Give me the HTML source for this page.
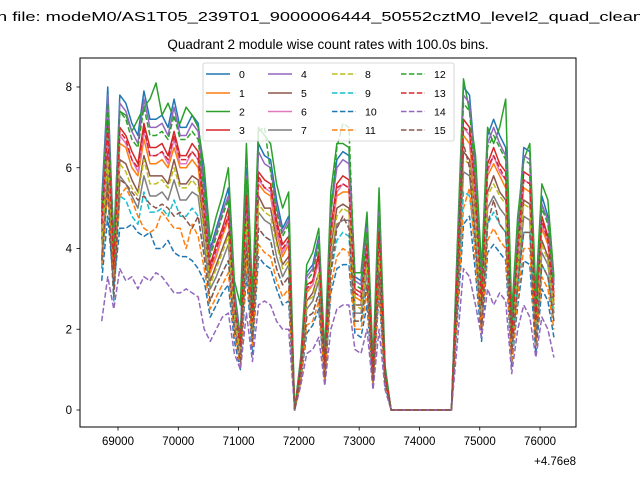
<!DOCTYPE html>
<html><head><meta charset="utf-8"><style>
html,body{margin:0;padding:0;background:#fff;}
svg{display:block;font-family:"Liberation Sans","DejaVu Sans",sans-serif;}
</style></head><body>
<svg id="chart" width="640" height="480" viewBox="0 0 640 480" xmlns="http://www.w3.org/2000/svg">
<rect x="0" y="0" width="640" height="480" fill="#fff"/>
<text x="-3" y="21" font-size="13" textLength="646" lengthAdjust="spacingAndGlyphs">n file: modeM0/AS1T05_239T01_9000006444_50552cztM0_level2_quad_clean</text>
<text x="328" y="49" font-size="13.5" text-anchor="middle">Quadrant 2 module wise count rates with 100.0s bins.</text>
<g id="plot"></g>
<rect x="80" y="58" width="496" height="369" fill="none" stroke="#000" stroke-width="1"/>
<g id="ticks"></g>
<text x="576" y="465" font-size="11.5" text-anchor="end">+4.76e8</text>
<g id="legend"></g>
</svg>
<script>
const seriesNames = ['0','1','2','3','4','5','6','7','8','9','10','11','12','13','14','15'];
const tStart = 68730;
const tStep = 100;
const xTicks = [69000,70000,71000,72000,73000,74000,75000,76000];
const xTickLabels = ['69000','70000','71000','72000','73000','74000','75000','76000'];
const yTicks = [0,2,4,6,8];
const yTickLabels = ['0','2','4','6','8'];
const s0 = [5.2,8.0,4.0,7.8,7.6,7.1,6.8,7.9,7.2,7.2, 7.3,7.0,7.7,7.0,7.0,7.3,7.1,5.6,4.0,4.5, 5.0,5.5,3.0,1.8,6.0,2.5,6.6,6.3,6.2,5.2, 4.5,4.8,0,1.2,3.4,3.6,4.3,1.2,5.0,6.2, 6.4,6.3,3.3,3.2,4.6,1.0,5.0,1.0,0,0, 0,0,0,0,0,0,0,0,0,4.0, 8.0,7.8,6.0,3.0,6.8,7.2,6.8,6.5,2.0,4.5, 6.5,6.4,2.5,5.3,4.8,3.2];
const s1 = [4.4,6.8,3.4,6.6,6.5,6.0,5.8,6.7,6.1,6.1, 6.2,6.0,6.5,6.0,6.0,6.2,6.0,4.8,3.4,3.8, 4.3,4.7,2.6,1.5,5.1,2.1,5.6,5.4,5.3,4.4, 3.8,4.1,0,1.0,2.9,3.1,3.7,1.0,4.3,5.3, 5.4,5.4,2.8,2.7,3.9,0.9,4.3,0.9,0,0, 0,0,0,0,0,0,0,0,0,3.4, 6.8,6.6,5.1,2.6,5.8,6.1,5.8,5.5,1.7,3.8, 5.5,5.4,2.1,4.5,4.1,2.7];
const s2 = [5.0,7.2,4.3,7.4,7.3,6.9,7.2,7.5,7.7,8.1, 7.3,7.6,7.2,7.1,7.5,7.3,7.0,6.0,4.2,4.8, 5.3,6.0,3.2,2.6,6.6,2.8,7.0,6.8,6.6,5.6, 5.0,5.4,0,1.3,3.6,3.9,4.5,1.4,5.4,6.6, 6.6,6.5,3.4,3.4,4.9,1.2,5.5,1.1,0,0, 0,0,0,0,0,0,0,0,0,4.2, 8.2,7.4,6.3,3.5,7.0,6.6,7.0,7.7,2.4,4.8, 6.2,6.6,2.9,5.6,5.2,3.3];
const s3 = [4.7,7.2,3.6,7.0,6.8,6.4,6.1,7.1,6.5,6.5, 6.6,6.3,6.9,6.3,6.3,6.6,6.4,5.0,3.6,4.1, 4.5,5.0,2.7,1.6,5.4,2.3,5.9,5.7,5.6,4.7, 4.1,4.3,0,1.1,3.1,3.2,3.9,1.1,4.5,5.6, 5.8,5.7,3.0,2.9,4.1,0.9,4.5,0.9,0,0, 0,0,0,0,0,0,0,0,0,3.6, 7.2,7.0,5.4,2.7,6.1,6.5,6.1,5.9,1.8,4.1, 5.9,5.8,2.3,4.8,4.3,2.9];
const s4 = [5.0,7.8,3.9,7.6,7.4,6.9,6.6,7.7,7.0,7.0, 7.1,6.8,7.5,6.8,6.8,7.1,6.9,5.4,3.9,4.4, 4.9,5.3,2.9,1.7,5.8,2.4,6.4,6.1,6.0,5.0, 4.4,4.7,0,1.2,3.3,3.5,4.2,1.2,4.9,6.0, 6.2,6.1,3.2,3.1,4.5,1.0,4.9,1.0,0,0, 0,0,0,0,0,0,0,0,0,3.9, 7.8,7.6,5.8,2.9,6.6,7.0,6.6,6.3,1.9,4.4, 6.3,6.2,2.4,5.1,4.7,3.1];
const s5 = [4.2,6.4,3.2,6.2,6.1,5.7,5.4,6.3,5.8,5.8, 5.8,5.6,6.2,5.6,5.6,5.8,5.7,4.5,3.2,3.6, 4.0,4.4,2.4,1.4,4.8,2.0,5.3,5.0,5.0,4.2, 3.6,3.8,0,1.0,2.7,2.9,3.4,1.0,4.0,5.0, 5.1,5.0,2.6,2.6,3.7,0.8,4.0,0.8,0,0, 0,0,0,0,0,0,0,0,0,3.2, 6.4,6.2,4.8,2.4,5.4,5.8,5.4,5.2,1.6,3.6, 5.2,5.1,2.0,4.2,3.8,2.6];
const s6 = [4.5,7.0,3.5,6.8,6.6,6.2,5.9,6.9,6.3,6.3, 6.4,6.1,6.7,6.1,6.1,6.4,6.2,4.9,3.5,3.9, 4.4,4.8,2.6,1.6,5.2,2.2,5.7,5.5,5.4,4.5, 3.9,4.2,0,1.0,3.0,3.1,3.7,1.0,4.4,5.4, 5.6,5.5,2.9,2.8,4.0,0.9,4.4,0.9,0,0, 0,0,0,0,0,0,0,0,0,3.5, 7.0,6.8,5.2,2.6,5.9,6.3,5.9,5.7,1.7,3.9, 5.7,5.6,2.2,4.6,4.2,2.8];
const s7 = [3.8,5.9,3.0,5.8,5.6,5.3,5.0,5.8,5.3,5.3, 5.4,5.2,5.7,5.2,5.2,5.4,5.3,4.1,3.0,3.3, 3.7,4.1,2.2,1.3,4.4,1.9,4.9,4.7,4.6,3.8, 3.3,3.6,0,0.9,2.5,2.7,3.2,0.9,3.7,4.6, 4.7,4.7,2.4,2.4,3.4,0.7,3.7,0.7,0,0, 0,0,0,0,0,0,0,0,0,3.0, 5.9,5.8,4.4,2.2,5.0,5.3,5.0,4.8,1.5,3.3, 4.8,4.7,1.9,3.9,3.6,2.4];
const s8 = [4.1,6.2,3.1,6.1,5.9,5.5,5.3,6.2,5.6,5.6, 5.7,5.5,6.0,5.5,5.5,5.7,5.5,4.4,3.1,3.5, 3.9,4.3,2.3,1.4,4.7,2.0,5.1,4.9,4.8,4.1, 3.5,3.7,0,0.9,2.7,2.8,3.4,0.9,3.9,4.8, 5.0,4.9,2.6,2.5,3.6,0.8,3.9,0.8,0,0, 0,0,0,0,0,0,0,0,0,3.1, 6.2,6.1,4.7,2.3,5.3,5.6,5.3,5.1,1.6,3.5, 5.1,5.0,2.0,4.1,3.7,2.5];
const s9 = [3.5,5.4,2.7,5.3,5.2,4.8,4.6,5.4,4.9,4.9, 5.0,4.8,5.2,4.8,4.8,5.0,4.8,3.8,2.7,3.1, 3.4,3.7,2.0,1.2,4.1,1.7,4.5,4.3,4.2,3.5, 3.1,3.3,0,0.8,2.3,2.4,2.9,0.8,3.4,4.2, 4.4,4.3,2.2,2.2,3.1,0.7,3.4,0.7,0,0, 0,0,0,0,0,0,0,0,0,2.7, 5.4,5.3,4.1,2.0,4.6,4.9,4.6,4.4,1.4,3.1, 4.4,4.4,1.7,3.6,3.3,2.2];
const s10 = [3.2,4.8,3.1,4.5,4.5,4.6,4.4,4.3,4.4,4.0, 4.0,4.2,3.9,3.8,3.8,3.7,3.5,3.2,2.3,2.6, 2.9,3.1,1.7,1.0,3.4,1.4,3.8,3.6,3.5,3.0, 2.6,2.7,0,0.7,1.9,2.1,2.5,0.7,2.9,3.5, 3.6,3.6,1.9,1.8,2.6,0.6,2.9,0.6,0,0, 0,0,0,0,0,0,0,0,0,2.3, 4.6,4.8,3.4,1.7,3.9,4.1,3.9,3.7,1.1,2.6, 3.7,3.6,1.4,3.0,2.7,1.8];
const s11 = [3.6,5.5,3.3,5.3,5.5,5.2,4.8,4.5,4.4,4.5, 4.9,4.7,4.5,4.5,4.0,4.6,4.3,3.5,2.5,2.8, 3.1,3.4,1.9,1.1,3.7,1.6,4.1,3.9,3.8,3.2, 2.8,3.0,0,0.7,2.1,2.2,2.7,0.7,3.1,3.8, 4.0,3.9,2.0,2.0,2.9,0.6,3.1,0.6,0,0, 0,0,0,0,0,0,0,0,0,2.5, 5.0,5.5,3.7,1.9,4.2,4.5,4.2,4.0,1.2,2.8, 4.0,4.0,1.6,3.3,3.0,2.0];
const s12 = [4.9,7.6,3.8,7.4,7.2,6.7,6.5,7.5,6.8,6.8, 6.9,6.7,7.3,6.7,6.7,6.9,6.7,5.3,3.8,4.3, 4.8,5.2,2.9,1.7,5.7,2.4,6.9,7.0,5.9,4.9, 4.3,4.6,0,1.1,3.2,3.4,4.1,1.1,4.8,6.5, 7.1,7.0,3.1,3.0,4.4,1.0,4.8,1.0,0,0, 0,0,0,0,0,0,0,0,0,3.8, 7.6,7.4,5.7,2.9,6.5,6.8,6.5,6.2,1.9,4.3, 6.2,6.1,2.4,5.0,4.6,3.0];
const s13 = [4.6,7.0,3.5,6.9,6.7,6.2,6.0,7.0,6.3,6.3, 6.4,6.2,6.8,6.2,6.2,6.4,6.2,4.9,3.5,4.0, 4.4,4.8,2.6,1.6,5.3,2.2,5.8,5.5,5.5,4.6, 4.0,4.2,0,1.1,3.0,3.2,3.8,1.1,4.4,5.5, 5.6,5.5,2.9,2.8,4.0,0.9,4.4,0.9,0,0, 0,0,0,0,0,0,0,0,0,3.5, 7.0,6.9,5.3,2.6,6.0,6.3,6.0,5.7,1.8,4.0, 5.7,5.6,2.2,4.7,4.2,2.8];
const s14 = [2.2,3.3,2.5,3.5,3.2,3.3,3.0,3.3,3.2,3.4, 3.3,3.1,2.9,2.9,3.0,2.9,2.8,2.0,1.7,2.0, 2.3,2.4,1.4,1.0,2.4,1.2,2.6,2.7,2.6,2.2, 2.0,2.0,0,0.6,1.4,1.5,1.8,0.6,2.0,2.5, 2.6,2.6,1.5,1.4,2.0,0.5,2.0,0.5,0,0, 0,0,0,0,0,0,0,0,0,1.7, 3.5,3.3,2.6,1.8,3.0,2.6,2.9,2.7,0.9,2.0, 2.6,2.3,1.3,2.3,2.0,1.3];
const s15 = [3.7,5.6,2.8,5.7,5.6,5.4,5.2,5.3,5.1,5.0, 5.1,5.0,4.8,4.9,4.7,4.5,4.8,3.8,2.7,3.1, 3.4,3.7,2.0,1.2,4.1,1.7,4.5,4.3,4.2,3.5, 3.1,3.3,0,0.8,2.3,2.4,2.9,0.8,3.4,4.5, 4.8,4.5,2.2,2.2,3.1,0.7,3.4,0.7,0,0, 0,0,0,0,0,0,0,0,0,2.7, 6.6,6.0,4.1,2.0,4.6,5.2,4.6,4.4,1.4,3.1, 4.4,4.4,1.7,3.6,3.3,2.2];
const allSeries = [s0,s1,s2,s3,s4,s5,s6,s7,s8,s9,s10,s11,s12,s13,s14,s15];
const colors = ['#1f77b4','#ff7f0e','#2ca02c','#d62728','#9467bd','#8c564b','#e377c2','#7f7f7f','#bcbd22','#17becf','#1f77b4','#ff7f0e','#2ca02c','#d62728','#9467bd','#8c564b'];

const NS = 'http://www.w3.org/2000/svg';
const X0 = 80, X1 = 576, Y0 = 427, Y1 = 58;
const xMin = 68369.7, xMax = 76596.3, yMin = -0.421, yMax = 8.718;
function xs(t){ return X0 + (t - xMin) / (xMax - xMin) * (X1 - X0); }
function ys(v){ return Y0 - (v - yMin) / (yMax - yMin) * (Y0 - Y1); }
function mk(tag, attrs){ const e = document.createElementNS(NS, tag); for (const k in attrs) e.setAttribute(k, attrs[k]); return e; }

const plot = document.getElementById('plot');
allSeries.forEach(function(vals, si){
  const pts = vals.map(function(v, i){ return xs(tStart + tStep * i).toFixed(2) + ',' + ys(v).toFixed(2); }).join(' ');
  const pl = mk('polyline', {points: pts, fill: 'none', stroke: colors[si], 'stroke-width': 1.5, 'stroke-linejoin': 'round'});
  if (si >= 8) pl.setAttribute('stroke-dasharray', '5.5,2.4');
  
  
  plot.appendChild(pl);
});

const ticks = document.getElementById('ticks');
xTicks.forEach(function(t, i){
  const x = xs(t);
  const ln = mk('line', {x1: x, x2: x, y1: Y0, y2: Y0 + 3.5, stroke: '#000', 'stroke-width': 0.8});
  
  
  ticks.appendChild(ln);
  const tx = mk('text', {x: x, y: Y0 + 18, 'font-size': 11.5, 'text-anchor': 'middle'});
  tx.textContent = xTickLabels[i];
  
  
  ticks.appendChild(tx);
});
yTicks.forEach(function(v, i){
  const y = ys(v);
  const ln = mk('line', {x1: X0 - 3.5, x2: X0, y1: y, y2: y, stroke: '#000', 'stroke-width': 0.8});
  
  
  ticks.appendChild(ln);
  const tx = mk('text', {x: X0 - 8, y: y + 4.2, 'font-size': 11.5, 'text-anchor': 'end'});
  tx.textContent = yTickLabels[i];
  
  
  ticks.appendChild(tx);
});

const legend = document.getElementById('legend');
const box = mk('rect', {x: 203, y: 63, width: 251, height: 78, rx: 2, fill: '#fff', 'fill-opacity': 0.8, stroke: '#ccc', 'stroke-width': 0.8});


legend.appendChild(box);
const colLineX = [206, 268, 332, 401];
const rowY = [74, 93, 111.5, 130];
seriesNames.forEach(function(name, si){
  const c = Math.floor(si / 4), r = si % 4;
  const g = mk('g', {});
  
  
  const ln = mk('line', {x1: colLineX[c], x2: colLineX[c] + 24, y1: rowY[r], y2: rowY[r], stroke: colors[si], 'stroke-width': 1.5});
  if (si >= 8) ln.setAttribute('stroke-dasharray', '5.5,2.4');
  g.appendChild(ln);
  const tx = mk('text', {x: colLineX[c] + 33, y: rowY[r] + 3.8, 'font-size': 10.5});
  tx.textContent = name;
  g.appendChild(tx);
  legend.appendChild(g);
});
</script>
</body></html>
